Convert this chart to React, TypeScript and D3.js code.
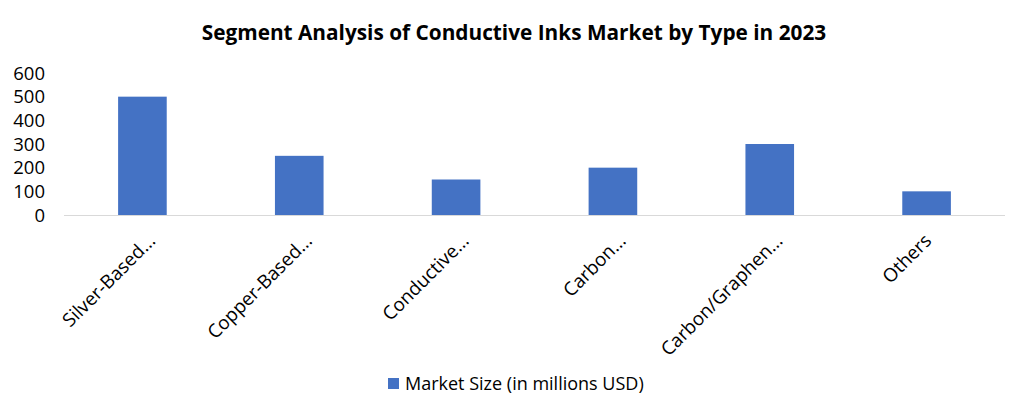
import React from "react";
import * as d3 from "d3";

const categories = [
  "Silver-Based...",
  "Copper-Based...",
  "Conductive...",
  "Carbon...",
  "Carbon/Graphen...",
  "Others",
];
const marketSize = [500, 250, 150, 200, 300, 100];
const yTicks = [0, 100, 200, 300, 400, 500, 600];
const seriesName = "Market Size (in millions USD)";
const title = "Segment Analysis of Conductive Inks Market by Type in 2023";

const W = 1027;
const H = 419;
const left = 64;
const right = 1005;
const top = 73;
const bottom = 215;
const color = "#4472C4";
const font = "'Open Sans', 'Noto Sans', sans-serif";

export default function App() {
  const x = d3.scaleBand<string>().domain(categories).range([left, right]).paddingInner(0.69).paddingOuter(0.345);
  const y = d3.scaleLinear().domain([0, 600]).range([bottom, top]);
  return (
    <svg width={W} height={H} style={{ position: "absolute", left: 0, top: 0 }} fontFamily={font}>
      <rect width={W} height={H} fill="#fff" />
      <text x={514} y={40} textAnchor="middle" fontSize={20.8} fontWeight="bold" fill="#000">
        {title}
      </text>
      {yTicks.map((t) => (
        <text key={t} x={45} y={y(t)} dy="0.36em" textAnchor="end" fontSize={18.5} fill="#000">
          {t}
        </text>
      ))}
      <line x1={left} x2={right} y1={bottom + 0.5} y2={bottom + 0.5} stroke="#d9d9d9" strokeWidth={1} />
      {categories.map((c, i) => (
        <rect key={c} x={x(c)} y={y(marketSize[i])} width={x.bandwidth()} height={bottom - y(marketSize[i])} fill={color} />
      ))}
      {categories.map((c) => {
        const cx = (x(c) as number) + x.bandwidth() / 2;
        const off = c.endsWith("...") ? 14 : 6;
        return (
          <text
            key={c}
            transform={`translate(${cx + off},${bottom + 27}) rotate(-45)`}
            textAnchor="end"
            fontSize={18.8}
            fill="#000"
          >
            {c}
          </text>
        );
      })}
      <rect x={388} y={378} width={11} height={11} fill={color} />
      <text x={405} y={384} dy="0.36em" fontSize={18} fill="#000">
        {seriesName}
      </text>
    </svg>
  );
}
